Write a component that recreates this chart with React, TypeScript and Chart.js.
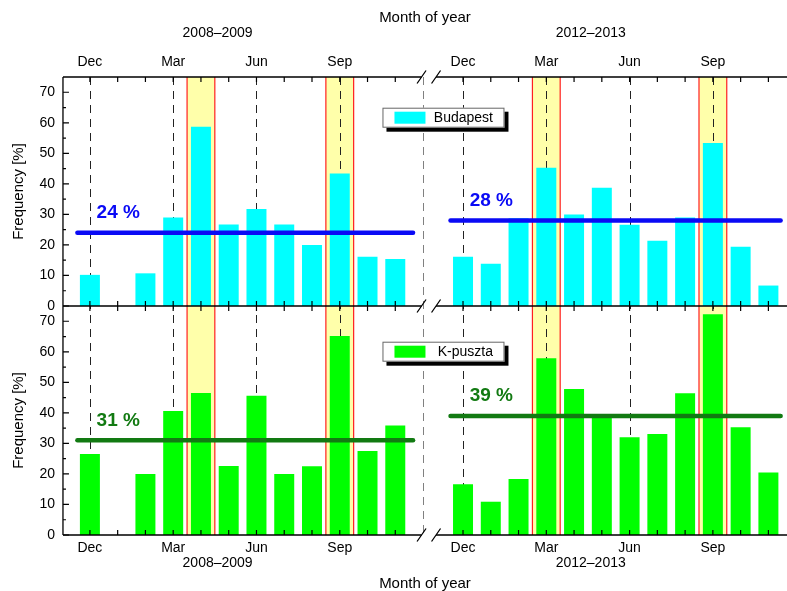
import React, { useEffect, useRef } from 'react';
import { Chart, registerables } from 'chart.js';

Chart.register(...registerables);

// ---------- data ----------
const months = ['Dec', 'Jan', 'Feb', 'Mar', 'Apr', 'May', 'Jun', 'Jul', 'Aug', 'Sep', 'Oct', 'Nov'];
const periods = ['2008–2009', '2012–2013'];
const labeledMonths = ['Dec', 'Mar', 'Jun', 'Sep'];
const highlightMonths = [['Apr', 'Sep'], ['Mar', 'Sep']];
const seriesNames = ['Budapest', 'K-puszta'];

const budapest0809 = [10.2, null, 10.7, 29.0, 58.7, 26.7, 31.8, 26.7, 20.0, 43.4, 16.1, 15.4];
const budapest1213 = [16.1, 13.8, 28.7, 45.3, 30.0, 38.7, 26.6, 21.4, 29.0, 53.4, 19.4, 6.7];
const kpuszta0809 = [26.5, null, 20.0, 40.6, 46.5, 22.6, 45.6, 20.0, 22.5, 65.2, 27.5, 35.9];
const kpuszta1213 = [16.6, 10.9, 18.3, 57.9, 47.8, 39.2, 32.0, 33.1, 46.4, 72.3, 35.3, 20.5];

const budapestMeans = [24, 28];
const kpusztaMeans = [31, 39];

const yTicks = [0, 10, 20, 30, 40, 50, 60, 70];

// ---------- layout / style constants ----------
const FONT = '"Liberation Sans", Arial, sans-serif';
const PANEL_OFFSETS = [0, 13.44]; // shared-axis position of "Dec" in each panel
const X_MIN = -0.97;
const X_MAX = 25.11;
const BREAK_X = 12;
const Y_MAX = 75;
const YEAR_LABEL_POS = 4.6;
const MEAN_LINE_START = -0.45;
const MEAN_LINE_END = [11.64, 11.44];
const MEAN_LABEL_POS = 0.24;

const BAR_COLORS = ['#00FFFF', '#00FF00'];
const MEAN_COLORS = ['#0a0af5', '#127a12'];
const BAND_FILL = '#FFFFAA';
const BAND_EDGE = '#FF2020';

const rows = [
  { axis: 'yTop', series: [budapest0809, budapest1213], means: budapestMeans },
  { axis: 'yBot', series: [kpuszta0809, kpuszta1213], means: kpusztaMeans },
];

// tick label maps for the shared x axis
const topTickLabels = new Map<number, string[]>();
const bottomTickLabels = new Map<number, string[]>();
PANEL_OFFSETS.forEach((off, p) => {
  labeledMonths.forEach((m) => {
    const v = off + months.indexOf(m);
    topTickLabels.set(v, [m]);
    bottomTickLabels.set(v, [m]);
  });
  const yv = off + YEAR_LABEL_POS;
  topTickLabels.set(yv, [periods[p], '', '']);
  bottomTickLabels.set(yv, ['', periods[p]]);
});
const sortedKeys = (m: Map<number, string[]>) => [...m.keys()].sort((a, b) => a - b);

// ---------- datasets ----------
const datasets: any[] = [];
rows.forEach((row, r) => {
  row.series.forEach((vals, p) => {
    const off = PANEL_OFFSETS[p];
    datasets.push({
      type: 'bar',
      label: seriesNames[r] + ' ' + periods[p],
      data: vals
        .map((v, i) => ({ x: off + i, y: v }))
        .filter((pt) => pt.y !== null),
      xAxisID: 'x',
      yAxisID: row.axis,
      backgroundColor: BAR_COLORS[r],
      borderWidth: 0,
      barPercentage: 0.72,
      categoryPercentage: 1,
      grouped: false,
      order: 2,
    });
    datasets.push({
      type: 'line',
      label: 'mean',
      data: [
        { x: off + MEAN_LINE_START, y: row.means[p] },
        { x: off + MEAN_LINE_END[p], y: row.means[p] },
      ],
      xAxisID: 'x',
      yAxisID: row.axis,
      borderColor: MEAN_COLORS[r],
      borderWidth: 4.5,
      borderCapStyle: 'round',
      pointRadius: 0,
      fill: false,
      order: 0,
    });
  });
});

// ---------- drawing plugin ----------
const decorPlugin = {
  id: 'decor',
  beforeDatasetsDraw(chart: any) {
    const { ctx, chartArea: a } = chart;
    const xs = chart.scales.x;
    ctx.save();
    PANEL_OFFSETS.forEach((off, p) => {
      highlightMonths[p].forEach((m) => {
        const i = months.indexOf(m);
        const x0 = xs.getPixelForValue(off + i - 0.5);
        const x1 = xs.getPixelForValue(off + i + 0.5);
        ctx.fillStyle = BAND_FILL;
        ctx.fillRect(x0, a.top, x1 - x0, a.bottom - a.top);
        ctx.strokeStyle = BAND_EDGE;
        ctx.lineWidth = 1.2;
        ctx.beginPath();
        ctx.moveTo(x0, a.top);
        ctx.lineTo(x0, a.bottom);
        ctx.moveTo(x1, a.top);
        ctx.lineTo(x1, a.bottom);
        ctx.stroke();
      });
    });
    ctx.setLineDash([8, 6]);
    ctx.lineWidth = 1;
    ctx.strokeStyle = '#222';
    ctx.beginPath();
    PANEL_OFFSETS.forEach((off) =>
      labeledMonths.forEach((m) => {
        const x = Math.round(xs.getPixelForValue(off + months.indexOf(m))) + 0.5;
        ctx.moveTo(x, a.top);
        ctx.lineTo(x, a.bottom);
      })
    );
    ctx.stroke();
    ctx.strokeStyle = '#808080';
    ctx.beginPath();
    const bx = Math.round(xs.getPixelForValue(BREAK_X)) + 0.5;
    ctx.moveTo(bx, a.top);
    ctx.lineTo(bx, a.bottom);
    ctx.stroke();
    ctx.restore();
  },
  afterDatasetsDraw(chart: any) {
    const { ctx, chartArea: a, scales } = chart;
    const xs = scales.x;
    const yT = scales.yTop;
    const yB = scales.yBot;
    const midY = yT.bottom;
    const bx = xs.getPixelForValue(BREAK_X);
    const s1 = bx - 1.5;
    const s2 = bx + 13;
    ctx.save();
    ctx.strokeStyle = '#000';
    ctx.lineWidth = 1.3;
    ctx.beginPath();
    [a.top, midY, a.bottom].forEach((y) => {
      ctx.moveTo(a.left, y);
      ctx.lineTo(s1, y);
      ctx.moveTo(s2, y);
      ctx.lineTo(a.right, y);
    });
    ctx.moveTo(a.left, a.top);
    ctx.lineTo(a.left, a.bottom);
    ctx.stroke();

    ctx.lineWidth = 1.2;
    ctx.beginPath();
    PANEL_OFFSETS.forEach((off) =>
      months.forEach((_, i) => {
        const x = xs.getPixelForValue(off + i);
        ctx.moveTo(x, a.top);
        ctx.lineTo(x, a.top + 5);
        ctx.moveTo(x, midY - 5);
        ctx.lineTo(x, midY + 5);
        ctx.moveTo(x, a.bottom);
        ctx.lineTo(x, a.bottom - 5);
      })
    );
    [yT, yB].forEach((ys: any) => {
      yTicks.forEach((v) => {
        const y = ys.getPixelForValue(v);
        ctx.moveTo(a.left, y);
        ctx.lineTo(a.left + 6, y);
        if (v + 5 < Y_MAX) {
          const ym = ys.getPixelForValue(v + 5);
          ctx.moveTo(a.left, ym);
          ctx.lineTo(a.left + 3, ym);
        }
      });
    });
    ctx.stroke();

    // axis-break slashes
    ctx.lineWidth = 1.3;
    ctx.beginPath();
    [s1, s2].forEach((cx) =>
      [a.top, midY, a.bottom].forEach((y) => {
        ctx.moveTo(cx - 4.5, y + 6.5);
        ctx.lineTo(cx + 4.5, y - 6.5);
      })
    );
    ctx.stroke();

    // mean labels
    ctx.font = 'bold 19px ' + FONT;
    ctx.textAlign = 'left';
    ctx.textBaseline = 'middle';
    rows.forEach((row, r) => {
      const ys = scales[row.axis];
      ctx.fillStyle = MEAN_COLORS[r];
      row.means.forEach((m, p) => {
        const x = xs.getPixelForValue(PANEL_OFFSETS[p] + MEAN_LABEL_POS);
        const y = ys.getPixelForValue(m) - 20;
        ctx.fillText(m + ' %', x, y);
      });
    });

    // legends
    const legendTops = [a.top + 30.7, yB.top + 35.7];
    rows.forEach((_, r) => {
      const left = a.left + 319.5;
      const top = legendTops[r];
      const w = 122;
      const h = 20;
      ctx.fillStyle = '#000';
      ctx.fillRect(left + 4, top + 4, w, h);
      ctx.fillStyle = '#fff';
      ctx.fillRect(left, top, w, h);
      ctx.strokeStyle = '#666';
      ctx.lineWidth = 1;
      ctx.strokeRect(left + 0.5, top + 0.5, w - 1, h - 1);
      ctx.fillStyle = BAR_COLORS[r];
      ctx.fillRect(left + 12, top + 4, 31, 12);
      ctx.fillStyle = '#000';
      ctx.font = '14px ' + FONT;
      ctx.textAlign = 'right';
      ctx.textBaseline = 'middle';
      ctx.fillText(seriesNames[r], left + 110.5, top + 10.5);
    });
    ctx.restore();
  },
};

const xAxisBase = (pos: 'top' | 'bottom') => ({
  type: 'linear',
  position: pos,
  min: X_MIN,
  max: X_MAX,
  offset: false,
  grid: { display: false, drawTicks: false },
  border: { display: false },
});

const yAxisBase = (weight: number) => ({
  type: 'linear',
  position: 'left',
  stack: 'rows',
  stackWeight: 1,
  weight,
  min: 0,
  max: Y_MAX,
  grid: { display: false, drawTicks: false },
  border: { display: false },
  afterBuildTicks: (s: any) => {
    s.ticks = yTicks.map((v) => ({ value: v }));
  },
  ticks: { padding: 8, color: '#000', font: { family: FONT, size: 14 } },
  title: {
    display: true,
    text: 'Frequency [%]',
    color: '#000',
    font: { family: FONT, size: 15 },
    padding: { top: 0, bottom: 3.1 },
  },
});

export default function App() {
  const ref = useRef<HTMLCanvasElement>(null);
  useEffect(() => {
    if (!ref.current) return;
    const chart = new Chart(ref.current, {
      type: 'bar',
      data: { datasets },
      options: {
        animation: false,
        responsive: true,
        maintainAspectRatio: false,
        devicePixelRatio: 1,
        events: [],
        layout: { padding: { left: 10.3, right: 0, top: 9, bottom: 0 } },
        plugins: { legend: { display: false }, tooltip: { enabled: false }, title: { display: false } },
        scales: {
          x: {
            ...xAxisBase('bottom'),
            afterBuildTicks: (s: any) => {
              s.ticks = sortedKeys(bottomTickLabels).map((v) => ({ value: v }));
            },
            ticks: {
              autoSkip: false,
              maxRotation: 0,
              minRotation: 0,
              padding: 5.5,
              color: '#000',
              font: { family: FONT, size: 14, lineHeight: '15px' },
              callback: (v: any) => bottomTickLabels.get(v) ?? '',
            },
            title: {
              display: true,
              text: 'Month of year',
              color: '#000',
              font: { family: FONT, size: 15 },
              padding: { top: -1, bottom: -2 },
            },
          },
          xTop: {
            ...xAxisBase('top'),
            afterBuildTicks: (s: any) => {
              s.ticks = sortedKeys(topTickLabels).map((v) => ({ value: v }));
            },
            ticks: {
              autoSkip: false,
              maxRotation: 0,
              minRotation: 0,
              padding: 7.75,
              color: '#000',
              font: { family: FONT, size: 14, lineHeight: '14.5px' },
              callback: (v: any) => topTickLabels.get(v) ?? '',
            },
            title: {
              display: true,
              text: 'Month of year',
              color: '#000',
              font: { family: FONT, size: 15 },
              padding: { top: 0, bottom: -9 },
            },
          },
          yTop: yAxisBase(2),
          yBot: yAxisBase(1),
        } as any,
      },
      plugins: [decorPlugin],
    } as any);
    return () => chart.destroy();
  }, []);
  return (
    <div style={{ position: 'absolute', left: 0, top: 0, width: 787, height: 591, background: '#fff' }}>
      <canvas ref={ref} />
    </div>
  );
}
